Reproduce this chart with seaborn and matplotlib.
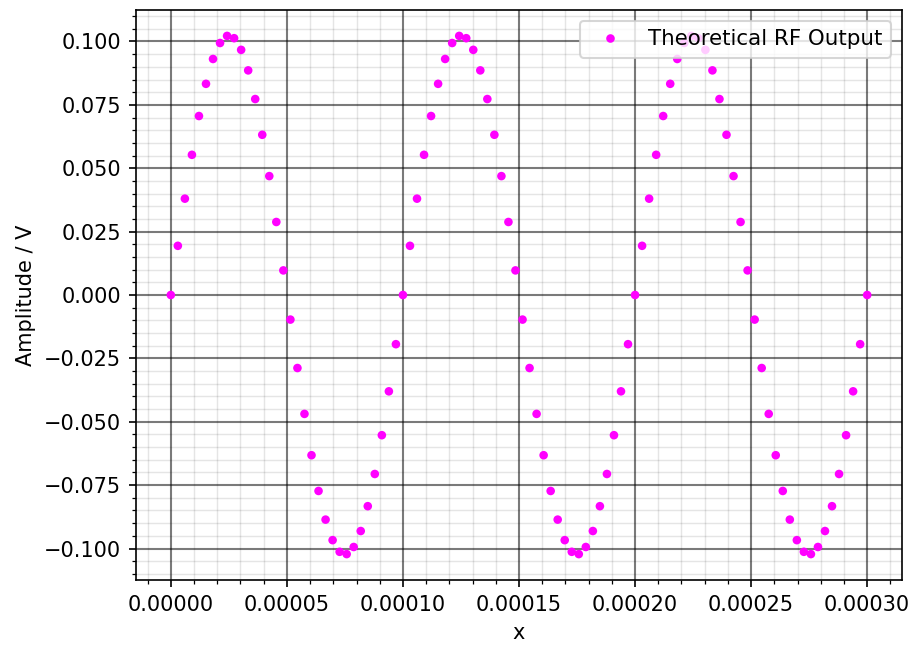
import matplotlib
matplotlib.use("Agg")
import matplotlib.pyplot as plt
from matplotlib.ticker import AutoMinorLocator
import seaborn as sns
import pandas as pd

# sample times in microseconds
time_us = [
    0.00, 3.03, 6.06, 9.09, 12.12, 15.15, 18.18, 21.21, 24.24, 27.27,
    30.30, 33.33, 36.36, 39.39, 42.42, 45.45, 48.48, 51.52, 54.55, 57.58,
    60.61, 63.64, 66.67, 69.70, 72.73, 75.76, 78.79, 81.82, 84.85, 87.88,
    90.91, 93.94, 96.97, 100.00, 103.03, 106.06, 109.09, 112.12, 115.15, 118.18,
    121.21, 124.24, 127.27, 130.30, 133.33, 136.36, 139.39, 142.42, 145.45, 148.48,
    151.52, 154.55, 157.58, 160.61, 163.64, 166.67, 169.70, 172.73, 175.76, 178.79,
    181.82, 184.85, 187.88, 190.91, 193.94, 196.97, 200.00, 203.03, 206.06, 209.09,
    212.12, 215.15, 218.18, 221.21, 224.24, 227.27, 230.30, 233.33, 236.36, 239.39,
    242.42, 245.45, 248.48, 251.52, 254.55, 257.58, 260.61, 263.64, 266.67, 269.70,
    272.73, 275.76, 278.79, 281.82, 284.85, 287.88, 290.91, 293.94, 296.97, 300.00,
]

amplitude_v = [
    0.0, 0.0194, 0.0380, 0.0553, 0.0706, 0.0833, 0.0931, 0.0994, 0.1022, 0.1013,
    0.0967, 0.0886, 0.0773, 0.0632, 0.0469, 0.0288, 0.0097, -0.0097, -0.0288, -0.0469,
    -0.0632, -0.0773, -0.0886, -0.0967, -0.1013, -0.1022, -0.0994, -0.0931, -0.0833, -0.0706,
    -0.0553, -0.0380, -0.0194,
    0.0, 0.0194, 0.0380, 0.0553, 0.0706, 0.0833, 0.0931, 0.0994, 0.1022, 0.1013,
    0.0967, 0.0886, 0.0773, 0.0632, 0.0469, 0.0288, 0.0097, -0.0097, -0.0288, -0.0469,
    -0.0632, -0.0773, -0.0886, -0.0967, -0.1013, -0.1022, -0.0994, -0.0931, -0.0833, -0.0706,
    -0.0553, -0.0380, -0.0194,
    0.0, 0.0194, 0.0380, 0.0553, 0.0706, 0.0833, 0.0931, 0.0994, 0.1022, 0.1013,
    0.0967, 0.0886, 0.0773, 0.0632, 0.0469, 0.0288, 0.0097, -0.0097, -0.0288, -0.0469,
    -0.0632, -0.0773, -0.0886, -0.0967, -0.1013, -0.1022, -0.0994, -0.0931, -0.0833, -0.0706,
    -0.0553, -0.0380, -0.0194,
    0.0,
]

series_label = "Theoretical RF Output"

df = pd.DataFrame({
    "x": [t * 1e-6 for t in time_us],
    "y": amplitude_v,
    "label": [series_label] * len(time_us),
})

fig = plt.figure(figsize=(916 / 150, 645 / 150), dpi=150)
ax = fig.add_axes([136 / 916, 1 - 580 / 645, (902 - 136) / 916, (580 - 10) / 645])

sns.scatterplot(data=df, x="x", y="y", hue="label", palette=["#ff00ff"],
                s=17, linewidth=0, ax=ax)

ax.xaxis.set_minor_locator(AutoMinorLocator(5))
ax.yaxis.set_minor_locator(AutoMinorLocator(5))
# translucent grid so that major lines are never washed out by minor ones
ax.grid(which="major", color="black", alpha=0.52, linewidth=1.0)
ax.grid(which="minor", color="black", alpha=0.1, linewidth=0.7)
ax.set_axisbelow(True)

ax.set_xlabel("x")
ax.set_ylabel("Amplitude / V")
ax.legend(loc="upper right", fontsize=10.25)

fig.savefig("out.png", dpi=150)
